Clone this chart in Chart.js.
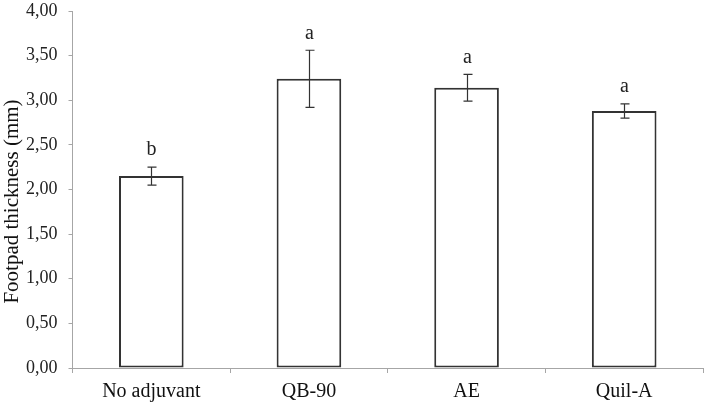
<!DOCTYPE html>
<html>
<head>
<meta charset="utf-8">
<script src="https://cdn.jsdelivr.net/npm/chart.js@4.4.1/dist/chart.umd.min.js"></script>
<style>
    html, body { margin: 0; padding: 0; background: #fff; }
    #wrap { width: 707px; height: 406px; }
</style>
</head>
<body>
<div id="wrap"><canvas id="chart"></canvas></div>
<script>
'use strict'

// Data
const categories = ['No adjuvant', 'QB-90', 'AE', 'Quil-A'];
const thickness = [2.15, 3.24, 3.14, 2.88];
const errors = [0.10, 0.32, 0.15, 0.08];
const letters = ['b', 'a', 'a', 'a'];
const yTicks = [0, 0.5, 1, 1.5, 2, 2.5, 3, 3.5, 4];
const yTitle = 'Footpad thickness (mm)';

const FONT = "'Liberation Serif', 'Times New Roman', serif";
const AXIS = '#a6a6a6';
const INK = '#333333';

// error bars + significance letters + y title (sits a bit below centre in the original)
const errorBars = {
    id: 'errorBars',
    afterDatasetsDraw(chart) {
        const ctx = chart.ctx;
        const y = chart.scales.y;
        const meta = chart.getDatasetMeta(0);
        ctx.save();
        ctx.strokeStyle = INK;
        ctx.lineWidth = 1.2;
        meta.data.forEach((bar, i) => {
            const top = y.getPixelForValue(thickness[i] + errors[i]);
            const bot = y.getPixelForValue(thickness[i] - errors[i]);
            const x = Math.round(bar.x) + 0.5;
            ctx.beginPath();
            ctx.moveTo(x, top); ctx.lineTo(x, bot);
            ctx.moveTo(x - 4, top); ctx.lineTo(x + 5, top);
            ctx.moveTo(x - 4, bot); ctx.lineTo(x + 5, bot);
            ctx.stroke();
            ctx.fillStyle = '#222';
            ctx.font = '20px ' + FONT;
            ctx.textAlign = 'center';
            ctx.textBaseline = 'middle';
            ctx.fillText(letters[i], x, top - 17);
        });

        ctx.translate(12.5, (y.top + y.bottom) / 2 + 12);
        ctx.rotate(-Math.PI / 2);
        ctx.fillStyle = '#111';
        ctx.font = '21px ' + FONT;
        ctx.textAlign = 'center';
        ctx.textBaseline = 'middle';
        ctx.fillText(yTitle, 0, 0);
        ctx.restore();
    }
};

new Chart(document.getElementById('chart'), {
    type: 'bar',
    data: {
        labels: categories,
        datasets: [{
            data: thickness,
            backgroundColor: '#ffffff',
            borderColor: INK,
            borderWidth: 2,
            borderSkipped: false,
            barPercentage: 0.41,
            categoryPercentage: 1
        }]
    },
    options: {
        responsive: true,
        maintainAspectRatio: false,
        animation: false,
        layout: { padding: { top: 0, right: 4, left: 15, bottom: -5 } },
        plugins: {
            legend: { display: false },
            tooltip: { enabled: false }
        },
        scales: {
            x: {
                grid: { offset: true, drawOnChartArea: false, drawTicks: true, tickLength: 5, color: AXIS },
                border: { color: AXIS, width: 1 },
                ticks: { color: '#111', font: { family: FONT, size: 20 }, padding: 7 }
            },
            y: {
                min: 0,
                max: 4,
                afterBuildTicks: axis => { axis.ticks = yTicks.map(v => ({ value: v })); },
                afterFit: axis => { axis.paddingTop = 11; },
                grid: { drawOnChartArea: false, drawTicks: true, tickLength: 4, color: AXIS },
                border: { color: AXIS, width: 1 },
                ticks: {
                    color: '#222',
                    font: { family: FONT, size: 18 },
                    padding: 11,
                    callback: v => v.toFixed(2).replace('.', ',')
                }
            }
        }
    },
    plugins: [errorBars]
});
</script>
</body>
</html>
